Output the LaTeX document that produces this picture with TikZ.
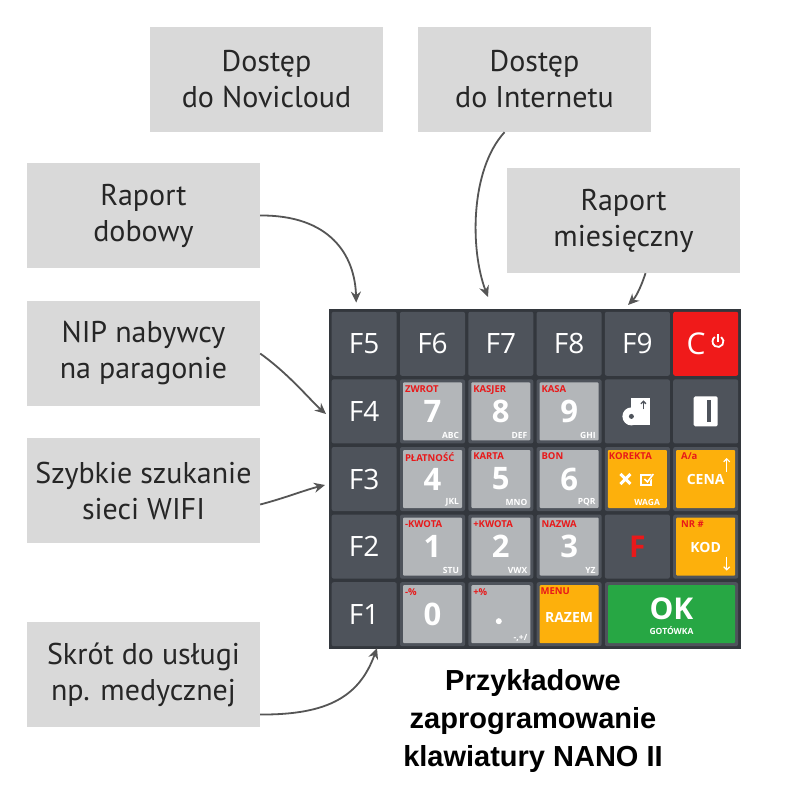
\documentclass[tikz,border=0pt]{standalone}
\usepackage{fontspec}
\setmainfont{PT Sans}
\newfontfamily\keyf{Open Sans}
\newfontfamily\titf{Liberation Sans}
\usetikzlibrary{arrows.meta}
\definecolor{lbl}{HTML}{D9D9D9}
\definecolor{board}{HTML}{33373D}
\definecolor{cell}{HTML}{4E535B}
\definecolor{lkey}{HTML}{B3B6B9}
\definecolor{okey}{HTML}{FDB00C}
\definecolor{gkey}{HTML}{27A744}
\definecolor{rkey}{HTML}{F01A1A}
\definecolor{redt}{HTML}{E8191A}
\definecolor{arr}{HTML}{555555}
\begin{document}
\begin{tikzpicture}[x=1pt,y=-1pt,
  lab/.style={fill=lbl,minimum width=233,minimum height=105,align=center,font=\fontsize{30}{36}\selectfont,text=black!85},
  cellbox/.style={fill=cell,rounded corners=2,minimum width=65,minimum height=64,inner sep=0},
  keybox/.style={rounded corners=1,minimum width=59,minimum height=58,inner sep=0},
  fk/.style={text=white,font=\keyf\fontsize{28}{28}\selectfont},
  topl/.style={text=redt,font=\keyf\bfseries\fontsize{9.5}{10}\selectfont,anchor=north west,inner sep=0},
  botl/.style={text=white,font=\keyf\bfseries\fontsize{8.5}{9}\selectfont,anchor=south east,inner sep=0},
  dig/.style={text=white,font=\keyf\bfseries\fontsize{31}{31}\selectfont},
  con/.style={arr,line width=1.8,-{Stealth[length=11,width=10]}}]
\useasboundingbox (0,0) rectangle (800,800);
\fill[white] (0,0) rectangle (800,800);
% labels
\node[lab] (nov) at (266.5,79.5) {Dostęp\\do Novicloud};
\node[lab] (int) at (534.5,79.5) {Dostęp\\do Internetu};
\node[lab] (dob) at (143.5,215.5) {Raport\\dobowy};
\node[lab] (mies) at (623.5,220.5) {Raport\\miesięczny};
\node[lab] (nip) at (143.5,353.5) {NIP nabywcy\\na paragonie};
\node[lab] (wifi) at (143.5,490.5) {Szybkie szukanie\\sieci WIFI};
\node[lab] (skr) at (143.5,674.5) {Skrót do usługi\\np. medycznej};
% board
\fill[board] (329,309) rectangle (741,649);
% row 0
\node[cellbox] (f5) at (364.2,343.8) {}; \node[fk] at (f5) {F5};
\node[cellbox] (f6) at (432.5,343.8) {}; \node[fk] at (f6) {F6};
\node[cellbox] (f7) at (500.8,343.8) {}; \node[fk] at (f7) {F7};
\node[cellbox] (f8) at (569.1,343.8) {}; \node[fk] at (f8) {F8};
\node[cellbox] (f9) at (637.4,343.8) {}; \node[fk] at (f9) {F9};
\node[cellbox,fill=rkey] (c) at (705.7,343.8) {};
\node[fk,font=\keyf\fontsize{30}{30}\selectfont] at (696,344) {C};
\draw[white,line width=1.8] (718,341.5) ++(-55:5.5) arc[start angle=-55,end angle=235,radius=5.5];
\draw[white,line width=1.8] (718,341.5) -- (718,334);
% row 1
\node[cellbox] (f4) at (364.2,411.4) {}; \node[fk] at (f4) {F4};
\node[cellbox] (c71) at (432.5,411.4) {}; \node[keybox,fill=lkey] (k7) at (432.5,411.4) {};
\node[cellbox] (c81) at (500.8,411.4) {}; \node[keybox,fill=lkey] (k8) at (500.8,411.4) {};
\node[cellbox] (c91) at (569.1,411.4) {}; \node[keybox,fill=lkey] (k9) at (569.1,411.4) {};
\node[cellbox] (pap) at (637.4,411.4) {};
\node[cellbox] (card) at (705.7,411.4) {};
% row 2
\node[cellbox] (f3) at (364.2,479) {}; \node[fk] at (f3) {F3};
\node[cellbox] (c42) at (432.5,479) {}; \node[keybox,fill=lkey] (k4) at (432.5,479) {};
\node[cellbox] (c52) at (500.8,479) {}; \node[keybox,fill=lkey] (k5) at (500.8,479) {};
\node[cellbox] (c62) at (569.1,479) {}; \node[keybox,fill=lkey] (k6) at (569.1,479) {};
\node[cellbox] (cx) at (637.4,479) {}; \node[keybox,fill=okey] (kx) at (637.4,479) {};
\node[cellbox] (cc) at (705.7,479) {}; \node[keybox,fill=okey] (kc) at (705.7,479) {};
% row 3
\node[cellbox] (f2) at (364.2,546.6) {}; \node[fk] at (f2) {F2};
\node[cellbox] (c13) at (432.5,546.6) {}; \node[keybox,fill=lkey] (k1) at (432.5,546.6) {};
\node[cellbox] (c23) at (500.8,546.6) {}; \node[keybox,fill=lkey] (k2) at (500.8,546.6) {};
\node[cellbox] (c33) at (569.1,546.6) {}; \node[keybox,fill=lkey] (k3) at (569.1,546.6) {};
\node[cellbox] (ff) at (637.4,546.6) {};
\node[text=redt,font=\keyf\bfseries\fontsize{30}{30}\selectfont] at (ff) {F};
\node[cellbox] (ck) at (705.7,546.6) {}; \node[keybox,fill=okey] (kk) at (705.7,546.6) {};
% row 4
\node[cellbox] (f1) at (364.2,614.2) {}; \node[fk] at (f1) {F1};
\node[cellbox] (c04) at (432.5,614.2) {}; \node[keybox,fill=lkey] (k0) at (432.5,614.2) {};
\node[cellbox] (cd4) at (500.8,614.2) {}; \node[keybox,fill=lkey] (kd) at (500.8,614.2) {};
\node[cellbox] (cr4) at (569.1,614.2) {}; \node[keybox,fill=okey] (kr) at (569.1,614.2) {};
\node[cellbox,minimum width=133] (cok) at (671.5,614.2) {}; \node[keybox,fill=gkey,minimum width=127] (kok) at (671.5,614.2) {};
% key texts
\foreach \k/\t/\d/\b in {k7/ZWROT/7/ABC,k8/KASJER/8/DEF,k9/KASA/9/GHI,k4/PŁATNOŚĆ/4/JKL,k5/KARTA/5/MNO,k6/BON/6/PQR,k1/-KWOTA/1/STU,k2/+KWOTA/2/VWX,k3/NAZWA/3/YZ,k0/-\%/0/}{
  \node[topl] at ([shift={(2,3)}]\k.north west) {\t};
  \node[dig] at ([shift={(0,0)}]\k.center) {\d};
  \node[botl] at ([shift={(-3,-2)}]\k.south east) {\b};
}
\node[topl] at ([shift={(2,3)}]kd.north west) {+\%};
\fill[white] ([shift={(-2,7)}]kd.center) circle (3);
\node[botl] at ([shift={(-3,-2)}]kd.south east) {-,+/};
\node[topl] at ([shift={(1,3)}]kx.north west) {KOREKTA};
\draw[white,line width=3] ([shift={(-17,-5)}]kx.center) -- ([shift={(-7,5)}]kx.center) ([shift={(-17,5)}]kx.center) -- ([shift={(-7,-5)}]kx.center);
\draw[white,line width=2] ([shift={(4,-4)}]kx.center) rectangle ([shift={(14,6)}]kx.center);
\draw[orange!10!okey,line width=2.5] ([shift={(7,0)}]kx.center) -- ([shift={(10,3)}]kx.center) -- ([shift={(17,-6)}]kx.center);
\draw[white,line width=1.6] ([shift={(7,0)}]kx.center) -- ([shift={(10,3)}]kx.center) -- ([shift={(16,-5)}]kx.center);
\node[botl] at ([shift={(-7,-2)}]kx.south east) {WAGA};
\node[topl] at ([shift={(5,3)}]kc.north west) {A/a};
\node[text=white,font=\keyf\bfseries\fontsize{14}{14}\selectfont] at (kc.center) {CENA};
\draw[white,line width=1.2,-{Straight Barb[length=3]}] ([shift={(21,-7)}]kc.center) -- ([shift={(21,-21)}]kc.center);
\node[topl] at ([shift={(5,3)}]kk.north west) {NR \#};
\node[text=white,font=\keyf\bfseries\fontsize{14}{14}\selectfont] at ([shift={(0,1)}]kk.center) {KOD};
\draw[white,line width=1.2,-{Straight Barb[length=3]}] ([shift={(21,10)}]kk.center) -- ([shift={(21,24)}]kk.center);
\node[topl] at ([shift={(1,3)}]kr.north west) {MENU};
\node[text=white,font=\keyf\bfseries\fontsize{14}{14}\selectfont] at ([shift={(0,3)}]kr.center) {RAZEM};
\node[text=white,font=\keyf\bfseries\fontsize{30}{30}\selectfont] at ([shift={(0,-5)}]kok.center) {OK};
\node[text=white,font=\keyf\bfseries\fontsize{8.5}{9}\selectfont] at ([shift={(0,16)}]kok.center) {GOTÓWKA};
% paper icon
\fill[white] ([shift={(-6,-13)}]pap.center) rectangle ([shift={(13,14)}]pap.center);
\fill[white] ([shift={(-6,5)}]pap.center) circle (9);
\fill[cell] ([shift={(-6,5)}]pap.center) circle (2.5);
\draw[cell,line width=1.3,-{Straight Barb[length=2.5]}] ([shift={(6,-2)}]pap.center) -- ([shift={(6,-11)}]pap.center);
% card icon
\fill[white,rounded corners=1.5] ([shift={(-12,-15)}]card.center) rectangle ([shift={(12,15)}]card.center);
\fill[cell] ([shift={(1,-11)}]card.center) rectangle ([shift={(5,11)}]card.center);
% title
\node[font=\titf\bfseries\fontsize{29}{38}\selectfont,align=center] (tit) at (533,721) {Przykładowe\\zaprogramowanie\\klawiatury NANO II};
% connectors
\draw[con] (dob.east) .. controls (330,215) and (355,255) .. ([shift={(-8,-9)}]f5.north);
\draw[con] ([xshift=-30]int.south) .. controls (470,170) and (470,250) .. (488,297);
\draw[con] ([xshift=22]mies.south) .. controls (640,290) and (635,298) .. (628,305);
\draw[con] (nip.east) .. controls (290,375) and (310,400) .. (326,414);
\draw[con] ([yshift=-14]wifi.east) .. controls (285,498) and (305,490) .. (325,485);
\draw[con] ([yshift=-40]skr.east) .. controls (330,715) and (360,695) .. (377,648);
\end{tikzpicture}
\end{document}
